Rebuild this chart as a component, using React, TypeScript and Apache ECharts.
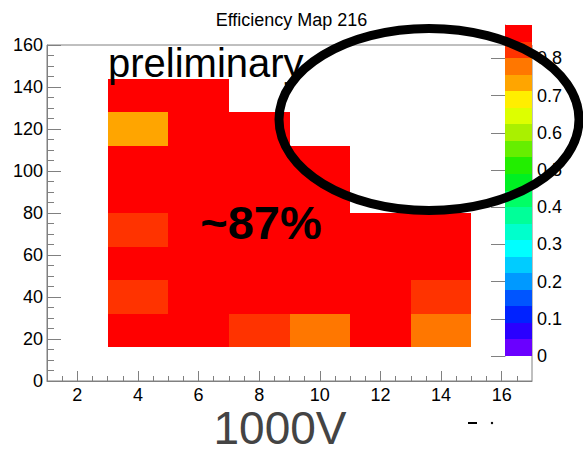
import React, { useEffect, useRef } from "react";
import * as echarts from "echarts";

// ---- data ----
const titleText = "Efficiency Map 216";
const binXEdges = [3, 5, 7, 9, 11, 13, 15];
const binYEdges = [16, 32, 48, 64, 80, 96, 112, 128, 144];
// efficiency per x-bin column, bottom row first
const col4 = [0.87, 0.82, 0.88, 0.83, 0.87, 0.88, 0.73, 0.86];
const col6 = [0.88, 0.87, 0.89, 0.88, 0.87, 0.86, 0.88, 0.87];
const col8 = [0.83, 0.88, 0.87, 0.89, 0.88, 0.87, 0.86];
const col10 = [0.78, 0.87, 0.88, 0.86, 0.87, 0.88];
const col12 = [0.87, 0.88, 0.86, 0.87];
const col14 = [0.78, 0.82, 0.86, 0.87];
const columns = [col4, col6, col8, col10, col12, col14];

const xTickLabels = [2, 4, 6, 8, 10, 12, 14, 16];
const zMax = 0.89;
// palette bottom -> top
const palette = [
  "#6a00ff", "#2a00ff", "#0022ff", "#0055ff", "#0099ff",
  "#00ccff", "#00ffff", "#00ffcc", "#00ff99", "#00ff66",
  "#00f022", "#22ee00", "#66ee00", "#aaf000", "#ddff00",
  "#ffee00", "#ffa500", "#ff7700", "#ff3300", "#ff0000",
];

const FONT = '"Liberation Sans", Arial, sans-serif';

export default function App() {
  const ref = useRef<HTMLDivElement>(null);

  useEffect(() => {
    if (!ref.current) return;
    const chart = echarts.init(ref.current, undefined, { renderer: "svg" });

    const cells: number[][] = [];
    columns.forEach((col, ci) => {
      col.forEach((v, ri) => {
        cells.push([binXEdges[ci], binXEdges[ci + 1], binYEdges[ri], binYEdges[ri + 1], v]);
      });
    });
    const step = zMax / palette.length;
    const bands = palette.map((_, i) => [0, 1, i * step, (i + 1) * step, (i + 0.5) * step]);
    const pieces = palette.map((c, i) =>
      i === palette.length - 1
        ? { gte: i * step, lte: zMax + 1e-9, color: c }
        : { gte: i * step, lt: (i + 1) * step, color: c }
    );

    const minorX: number[] = [];
    for (let v = 1.5; v < 17; v += 0.5) {
      if (v % 2 !== 0) minorX.push(v);
    }

    const rectItem = (params: any, api: any) => {
      const p0 = api.coord([api.value(0), api.value(3)]);
      const p1 = api.coord([api.value(1), api.value(2)]);
      const x0 = Math.round(p0[0]);
      const y0 = Math.round(p0[1]);
      const x1 = Math.round(p1[0]);
      const y1 = Math.round(p1[1]);
      const c = api.visual("color");
      return {
        type: "rect",
        shape: { x: x0, y: y0, width: x1 - x0, height: y1 - y0 },
        style: { fill: c, stroke: null, lineWidth: 0 },
      };
    };

    const gray = "#808080";

    chart.setOption({
      animation: false,
      backgroundColor: "#fff",
      title: {
        text: titleText,
        left: "center",
        top: 6,
        textStyle: { fontFamily: FONT, fontSize: 18, fontWeight: "normal", color: "#000", lineHeight: 18 },
      },
      grid: [
        { left: 47, top: 45, width: 485, height: 336, show: true, borderColor: gray, borderWidth: 1, backgroundColor: "transparent" },
        { left: 505, top: 25, width: 27, height: 331 },
      ],
      visualMap: {
        type: "piecewise",
        show: false,
        dimension: 4,
        seriesIndex: [0, 1],
        pieces,
      },
      xAxis: [
        {
          type: "value",
          gridIndex: 0,
          position: "bottom",
          min: 1,
          max: 17,
          axisLine: { show: true, lineStyle: { color: gray } },
          axisTick: { show: true, inside: true, length: 10, customValues: xTickLabels, lineStyle: { color: gray } },
          axisLabel: { customValues: xTickLabels, fontFamily: FONT, fontSize: 18, color: "#000", margin: 5 },
          splitLine: { show: false },
        },
        {
          type: "value",
          gridIndex: 0,
          position: "bottom",
          min: 1,
          max: 17,
          axisLine: { show: false },
          axisTick: { show: true, inside: true, length: 5, customValues: minorX, lineStyle: { color: gray } },
          axisLabel: { show: false },
          splitLine: { show: false },
        },
        { type: "value", gridIndex: 1, min: 0, max: 1, show: false },
      ],
      yAxis: [
        {
          type: "value",
          gridIndex: 0,
          min: 0,
          max: 160,
          interval: 20,
          axisLine: { show: true, lineStyle: { color: gray } },
          axisTick: { show: true, inside: true, length: 14, lineStyle: { color: gray } },
          minorTick: { show: true, splitNumber: 4, length: 7, lineStyle: { color: gray } },
          axisLabel: { fontFamily: FONT, fontSize: 18, color: "#000", margin: 4 },
          splitLine: { show: false },
        },
        {
          type: "value",
          gridIndex: 1,
          position: "right",
          min: 0,
          max: zMax,
          interval: 0.1,
          axisLine: { show: true, lineStyle: { color: gray } },
          axisTick: { show: true, inside: true, length: 14, lineStyle: { color: gray } },
          axisLabel: { fontFamily: FONT, fontSize: 18, color: "#000", margin: 5, showMaxLabel: false },
          splitLine: { show: false },
        },
      ],
      series: [
        {
          type: "custom",
          name: "efficiency",
          xAxisIndex: 0,
          yAxisIndex: 0,
          dimensions: ["x0", "x1", "y0", "y1", "eff"],
          encode: { x: [0, 1], y: [2, 3] },
          data: cells,
          renderItem: rectItem,
          clip: true,
        },
        {
          type: "custom",
          name: "palette",
          xAxisIndex: 2,
          yAxisIndex: 1,
          dimensions: ["x0", "x1", "y0", "y1", "eff"],
          encode: { x: [0, 1], y: [2, 3] },
          data: bands,
          renderItem: rectItem,
        },
      ],
      graphic: [
        {
          type: "text",
          x: 108,
          y: 63,
          z: 50,
          style: { text: "preliminary", font: `40px ${FONT}`, fill: "#000", verticalAlign: "middle", align: "left" },
        },
        {
          type: "text",
          x: 261,
          y: 222,
          z: 50,
          style: { text: "~87%", font: `bold 47px ${FONT}`, fill: "#000", verticalAlign: "middle", align: "center" },
        },
        {
          type: "text",
          x: 280,
          y: 428,
          z: 50,
          style: { text: "1000V", font: `46px ${FONT}`, fill: "#444", verticalAlign: "middle", align: "center" },
        },
        {
          type: "ellipse",
          z: 100,
          shape: { cx: 429, cy: 119.5, rx: 150, ry: 91 },
          style: { fill: "none", stroke: "#000", lineWidth: 9 },
        },
        { type: "rect", z: 50, shape: { x: 468, y: 422, width: 9, height: 2 }, style: { fill: "#000" } },
        { type: "circle", z: 50, shape: { cx: 492, cy: 423, r: 1.2 }, style: { fill: "#000" } },
      ],
    });

    return () => chart.dispose();
  }, []);

  return (
    <div
      ref={ref}
      style={{ position: "absolute", left: 0, top: 0, width: 583, height: 452 }}
    />
  );
}
